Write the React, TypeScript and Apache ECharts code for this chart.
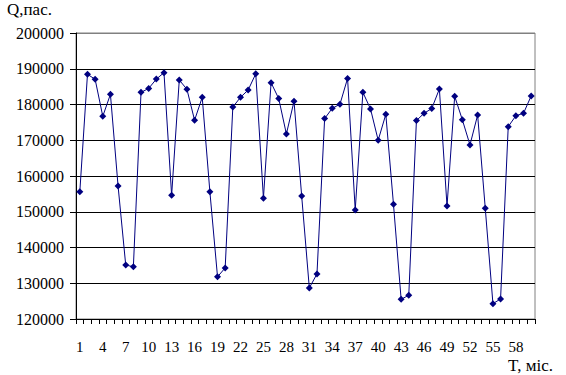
import React, { useEffect, useRef } from "react";
import * as echarts from "echarts";

const months: string[] = Array.from({ length: 60 }, (_, i) => String(i + 1));

const passengers: number[] = [
  155600, 188450, 187050, 176700, 182850, 157200, 135100, 134600, 183400, 184500,
  187100, 188900, 154600, 186850, 184250, 175600, 182000, 155600, 131800, 134300,
  179300, 182000, 184050, 188600, 153800, 186100, 181650, 171750, 180900, 154400,
  128700, 132600, 176050, 178950, 180050, 187300, 150500, 183400, 178750, 170000,
  177250, 152100, 125500, 126650, 175500, 177550, 178850, 184350, 151600, 182300,
  175750, 168700, 177050, 150950, 124300, 125600, 173800, 176850, 177550, 182400,
];

const yMin = 120000;
const yMax = 200000;
const yStep = 10000;

const yTitle = "Q,пас.";
const xTitle = "T, міс.";

const FONT = "Liberation Serif";

export default function App() {
  const ref = useRef<HTMLDivElement>(null);
  useEffect(() => {
    if (!ref.current) return;
    const chart = echarts.init(ref.current, undefined, { renderer: "svg" });
    const splitColors = Array.from({ length: 9 }, (_, i) => (i === 8 ? "#808080" : "#000000"));
    chart.setOption({
      animation: false,
      backgroundColor: "#ffffff",
      textStyle: { fontFamily: FONT },
      grid: {
        left: 76,
        right: 31,
        top: 33,
        bottom: 56,
        show: true,
        borderColor: "#808080",
        borderWidth: 1,
        backgroundColor: "transparent",
      },
      graphic: [
        {
          type: "text",
          left: 7,
          top: 1,
          style: { text: yTitle, fontSize: 17, fontFamily: FONT, fill: "#000" },
        },
        {
          type: "text",
          right: 13,
          bottom: 1,
          style: { text: xTitle, fontSize: 17, fontFamily: FONT, fill: "#000" },
        },
      ],
      xAxis: {
        type: "category",
        data: months,
        boundaryGap: true,
        axisLine: { lineStyle: { color: "#000", width: 1 } },
        axisTick: { show: true, interval: 0, length: 5, lineStyle: { color: "#000" } },
        axisLabel: {
          interval: 2,
          margin: 20,
          color: "#000",
          fontSize: 15,
          fontFamily: FONT,
        },
        splitLine: { show: false },
      },
      yAxis: {
        type: "value",
        min: yMin,
        max: yMax,
        interval: yStep,
        axisLine: { show: true, lineStyle: { color: "#000", width: 1 } },
        axisTick: { show: true, length: 6, lineStyle: { color: "#000" } },
        axisLabel: {
          margin: 12,
          color: "#000",
          fontSize: 16,
          fontFamily: FONT,
          formatter: (v: number) => String(v),
        },
        splitLine: { show: true, lineStyle: { color: splitColors, width: 1 } },
      },
      series: [
        {
          type: "line",
          data: passengers,
          symbol: "diamond",
          symbolSize: 7,
          showAllSymbol: true,
          lineStyle: { color: "#000080", width: 1 },
          itemStyle: { color: "#000080" },
        },
      ],
    });
    return () => chart.dispose();
  }, []);
  return <div ref={ref} style={{ width: 566, height: 375, position: "absolute", left: 0, top: 0 }} />;
}
